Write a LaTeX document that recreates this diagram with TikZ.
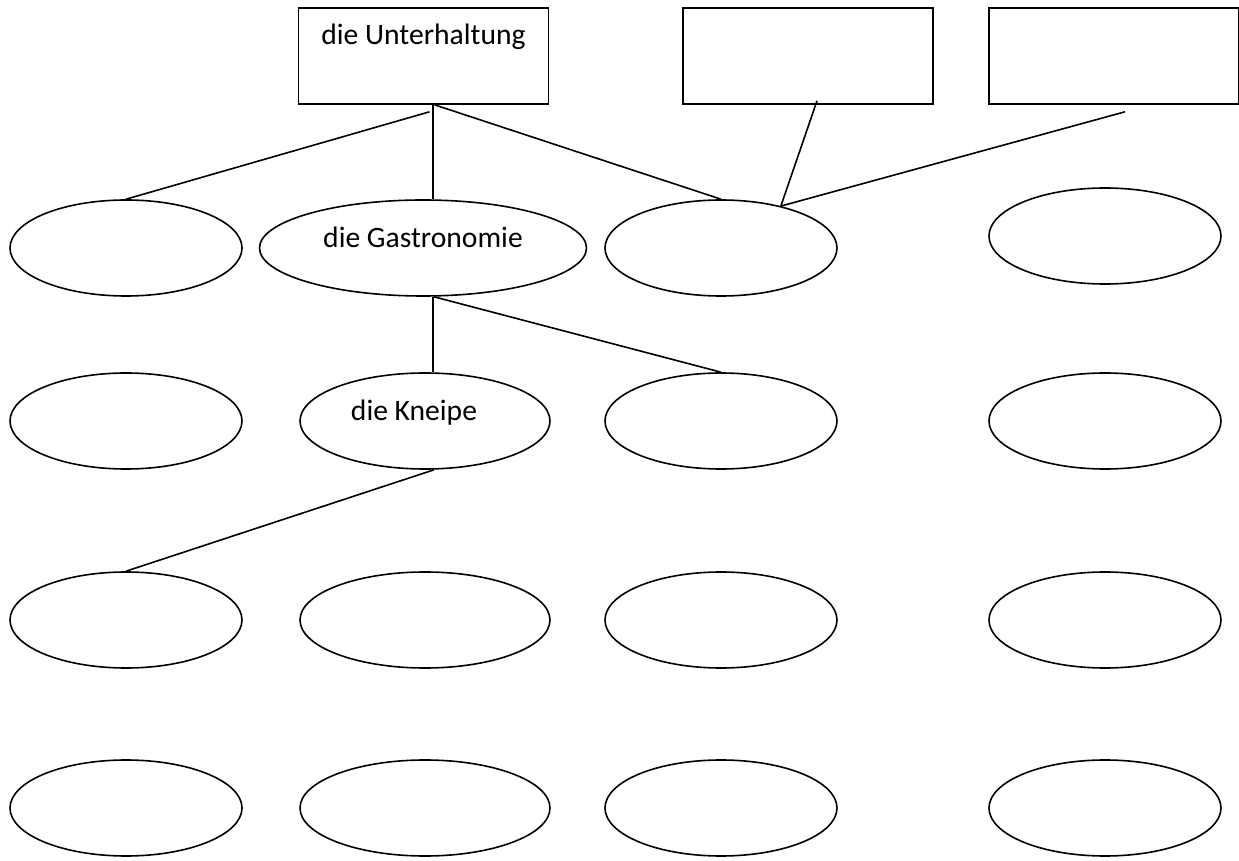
\documentclass[tikz,border=0pt]{standalone}
\usepackage{fontspec}
\setmainfont{Carlito}
\usetikzlibrary{shapes.geometric}

\begin{document}
\begin{tikzpicture}[x=0.5pt, y=-0.5pt, line width=0.8pt,
		font=\fontsize{14.8}{17}\selectfont,
		topic/.style={draw, rectangle, inner sep=0pt, minimum width=125pt, minimum height=48pt, text height=9pt, text depth=20pt},
		blob/.style={draw, ellipse, inner sep=0pt, minimum width=116pt, minimum height=48pt, text height=9pt, text depth=9pt}]
		\useasboundingbox (0,0) rectangle (1239,861);
		% boxes
		\node[topic] (unterhaltung) at (423.5,56) {die Unterhaltung};
		\node[topic] (boxb) at (808,56) {};
		\node[topic] (boxc) at (1114,56) {};
		% first row
		\node[blob] (a1) at (126,248) {};
		\node[blob, minimum width=163.5pt] (gastronomie) at (423,248) {die Gastronomie};
		\node[blob] (a3) at (721,248) {};
		\node[blob] (a4) at (1105,236) {};
		% second row
		\node[blob] (b1) at (126,421) {};
		\node[blob, minimum width=125pt] (kneipe) at (425,421) {die Kneipe\hspace*{11pt}};
		\node[blob] (b3) at (721,421) {};
		\node[blob] (b4) at (1105,421) {};
		% third row
		\node[blob] (c1) at (126,620) {};
		\node[blob, minimum width=125pt] (c2) at (425,620) {};
		\node[blob] (c3) at (721,620) {};
		\node[blob] (c4) at (1105,620) {};
		% fourth row
		\node[blob] (d1) at (126,808) {};
		\node[blob, minimum width=125pt] (d2) at (425,808) {};
		\node[blob] (d3) at (721,808) {};
		\node[blob] (d4) at (1105,808) {};
		% lines
		\draw ([shift={(6,7)}]unterhaltung.south) -- (a1.north);
		\draw ([shift={(9.5,0)}]unterhaltung.south) -- ([shift={(10,0)}]gastronomie.north);
		\draw ([shift={(11,0)}]unterhaltung.south) -- (a3.north);
		\draw ([shift={(9,-4)}]boxb.south) -- (a3.35);
		\draw ([shift={(11,7)}]boxc.south) -- (a3.35);
		\draw ([shift={(10,0)}]gastronomie.south) -- ([shift={(8,0)}]kneipe.north);
		\draw ([shift={(11,0)}]gastronomie.south) -- (b3.north);
		\draw ([shift={(9,0)}]kneipe.south) -- (c1.north);
\end{tikzpicture}
\end{document}
